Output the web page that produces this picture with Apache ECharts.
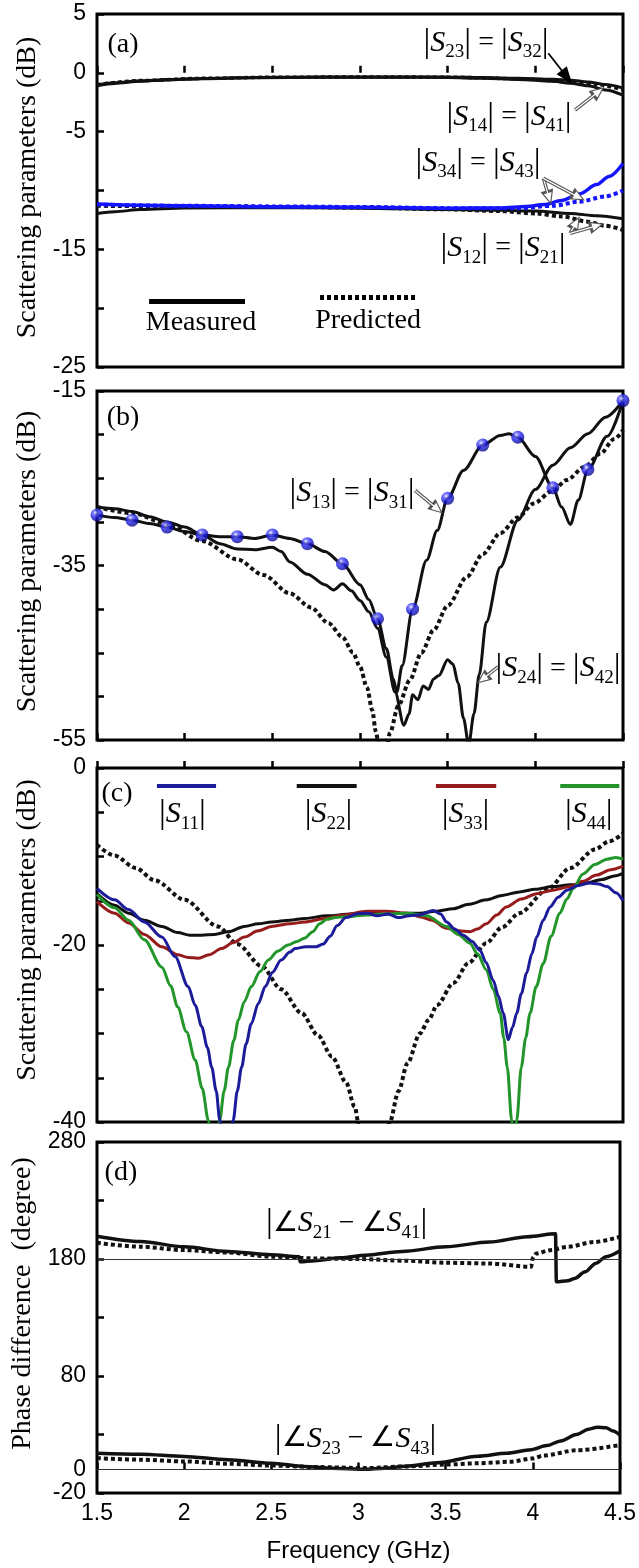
<!DOCTYPE html>
<html><head><meta charset="utf-8">
<script src="https://cdn.jsdelivr.net/npm/echarts@6/dist/echarts.min.js"></script>
<style>html,body{margin:0;padding:0;background:#fff}#c{width:639px;height:1568px}</style>
</head><body><div id="c"></div>
<script>
// ---------------- DATA ----------------
const freqTicks = [1.5, 2, 2.5, 3, 3.5, 4, 4.5];
const yLabelsA = [5, 0, -5, -15, -25];
const yLabelsB = [-15, -35, -55];
const yLabelsC = [0, -20, -40];
const yLabelsD = [280, 180, 80, 0, -20];
const yTicksD = [-20, 30, 80, 130, 180, 230, 280];

// (a) transmission
const aS23 = [[1.5,-1.05],[1.6,-0.85],[1.75,-0.68],[1.9,-0.57],[2.1,-0.48],[2.4,-0.4],[2.8,-0.36],[3.2,-0.35],[3.5,-0.36],[3.7,-0.4],[3.9,-0.46],[4.1,-0.55],[4.2,-0.62],[4.3,-0.78],[4.4,-1.0],[4.5,-1.3]];
const aS14 = [[1.5,-1.1],[1.6,-0.9],[1.75,-0.72],[1.9,-0.6],[2.1,-0.5],[2.4,-0.42],[2.8,-0.38],[3.2,-0.37],[3.5,-0.4],[3.7,-0.46],[3.9,-0.56],[4.1,-0.72],[4.2,-0.88],[4.3,-1.1],[4.4,-1.45],[4.5,-1.9]];
const aP23 = [[1.5,-1.0],[1.75,-0.66],[2.1,-0.47],[2.5,-0.38],[3.0,-0.35],[3.5,-0.37],[3.9,-0.5],[4.2,-0.75],[4.35,-1.0],[4.5,-1.45]];
const aS34 = [[1.5,-11.15],[1.75,-11.25],[2.0,-11.3],[2.5,-11.38],[3.0,-11.43],[3.5,-11.5],[3.8,-11.48],[3.95,-11.35],[4.05,-11.2],[4.15,-10.85],[4.25,-10.3],[4.35,-9.5],[4.42,-8.8],[4.5,-7.7]];
const aP34 = [[1.5,-11.2],[2.0,-11.3],[2.5,-11.35],[3.0,-11.4],[3.5,-11.5],[3.9,-11.5],[4.1,-11.3],[4.25,-10.95],[4.4,-10.5],[4.5,-10.0]];
const aS12 = [[1.5,-11.95],[1.6,-11.8],[1.75,-11.62],[2.0,-11.48],[2.5,-11.45],[3.0,-11.5],[3.5,-11.62],[3.8,-11.68],[4.0,-11.75],[4.2,-11.95],[4.35,-12.15],[4.5,-12.4]];
const aP12 = [[1.5,-11.3],[2.0,-11.35],[2.5,-11.4],[3.0,-11.45],[3.5,-11.6],[3.8,-11.75],[4.0,-11.95],[4.15,-12.2],[4.3,-12.65],[4.4,-13.0],[4.5,-13.35]];

// (b) isolation
const bS13 = [[1.5,-29.2],[1.6,-29.5],[1.7,-29.8],[1.8,-30.2],[1.9,-30.6],[2.0,-31.1],[2.1,-31.5],[2.2,-31.7],[2.3,-31.7],[2.4,-31.9],[2.5,-31.5],[2.6,-31.9],[2.7,-32.5],[2.8,-33.4],[2.9,-34.8],[3.0,-37.2],[3.05,-38.9],[3.1,-41.1],[3.15,-44.5],[3.19,-48.0],[3.21,-49.5],[3.24,-46.5],[3.3,-40.0],[3.38,-34.4],[3.44,-31.0],[3.5,-27.3],[3.59,-24.1],[3.7,-21.2],[3.8,-20.1],[3.85,-19.9],[3.9,-20.3],[4.0,-22.5],[4.1,-26.1],[4.15,-28.3],[4.2,-30.3],[4.245,-27.5],[4.3,-24.0],[4.41,-20.2],[4.5,-16.1]];
const bS13Balls = [[1.5,-29.2],[1.7,-29.8],[1.9,-30.6],[2.1,-31.5],[2.3,-31.7],[2.5,-31.5],[2.7,-32.5],[2.9,-34.8],[3.1,-41.1],[3.3,-40.0],[3.5,-27.3],[3.7,-21.2],[3.9,-20.3],[4.1,-26.1],[4.3,-24.0],[4.5,-16.1]];
const bS24 = [[1.5,-28.3],[1.6,-28.5],[1.7,-28.8],[1.8,-29.4],[1.9,-30.0],[2.0,-30.6],[2.1,-31.5],[2.2,-32.5],[2.3,-33.1],[2.4,-33.2],[2.5,-32.9],[2.55,-33.4],[2.6,-34.6],[2.7,-36.0],[2.8,-37.2],[2.85,-37.8],[2.9,-37.1],[2.95,-37.9],[3.0,-39.0],[3.05,-40.3],[3.1,-42.2],[3.15,-45.5],[3.2,-49.5],[3.25,-53.3],[3.28,-52.0],[3.3,-49.8],[3.33,-50.4],[3.36,-48.8],[3.39,-49.2],[3.42,-48.0],[3.45,-47.6],[3.5,-45.8],[3.53,-46.3],[3.56,-48.5],[3.59,-52.5],[3.62,-55.5],[3.65,-52.0],[3.68,-47.5],[3.72,-41.5],[3.8,-35.2],[3.9,-29.8],[4.0,-26.3],[4.1,-23.5],[4.2,-21.5],[4.3,-19.9],[4.4,-18.0],[4.5,-16.1]];
const bPred = [[1.5,-28.3],[1.7,-29.0],[1.9,-30.2],[2.1,-32.2],[2.3,-34.3],[2.45,-36.1],[2.6,-38.2],[2.72,-39.8],[2.82,-41.6],[2.9,-43.2],[2.96,-45.0],[3.0,-46.6],[3.04,-49.0],[3.07,-51.6],[3.09,-54.0],[3.12,-58.0],[3.15,-56.5],[3.17,-54.2],[3.22,-51.0],[3.285,-48.1],[3.35,-45.0],[3.42,-42.4],[3.5,-39.6],[3.61,-36.3],[3.7,-33.7],[3.8,-31.3],[3.9,-29.5],[3.99,-27.9],[4.1,-26.4],[4.18,-25.2],[4.28,-23.7],[4.37,-22.2],[4.45,-20.5],[4.5,-19.5]];

// (c) reflection
const cS11 = [[1.5,-13.6],[1.6,-14.9],[1.68,-16.0],[1.77,-17.4],[1.87,-19.1],[1.945,-21.3],[2.02,-24.7],[2.06,-26.8],[2.097,-29.2],[2.13,-31.6],[2.154,-33.8],[2.18,-36.5],[2.2,-39.8],[2.24,-46],[2.277,-39.8],[2.3,-36.5],[2.325,-33.8],[2.35,-31.2],[2.38,-28.9],[2.42,-26.6],[2.46,-24.7],[2.5,-23.1],[2.55,-21.7],[2.6,-20.8],[2.63,-20.4],[2.69,-20.2],[2.75,-20.2],[2.79,-19.9],[2.83,-19.0],[2.87,-17.8],[2.92,-16.9],[2.98,-16.5],[3.04,-16.4],[3.1,-16.7],[3.16,-16.5],[3.22,-16.9],[3.28,-16.7],[3.342,-16.6],[3.418,-16.1],[3.46,-16.5],[3.494,-17.4],[3.54,-18.2],[3.589,-18.9],[3.64,-19.6],[3.684,-20.6],[3.72,-22.0],[3.76,-24.0],[3.79,-25.8],[3.817,-27.7],[3.846,-30.7],[3.87,-29.3],[3.894,-27.7],[3.92,-25.5],[3.95,-23.2],[3.98,-21.0],[4.008,-19.1],[4.045,-17.2],[4.084,-15.7],[4.13,-14.6],[4.18,-13.8],[4.24,-13.3],[4.31,-13.0],[4.36,-13.1],[4.41,-13.4],[4.46,-14.1],[4.5,-15.0]];
const cS22 = [[1.5,-14.2],[1.6,-15.5],[1.68,-16.4],[1.77,-17.2],[1.87,-17.9],[1.96,-18.6],[2.03,-18.9],[2.097,-18.9],[2.17,-18.8],[2.25,-18.5],[2.34,-17.9],[2.42,-17.6],[2.496,-17.4],[2.6,-17.2],[2.686,-17.0],[2.81,-16.7],[2.95,-16.5],[3.04,-16.4],[3.15,-16.5],[3.27,-16.4],[3.342,-16.4],[3.43,-16.2],[3.532,-15.9],[3.62,-15.4],[3.72,-14.9],[3.81,-14.4],[3.91,-14.0],[4.0,-13.7],[4.1,-13.4],[4.2,-13.2],[4.29,-13.0],[4.38,-12.6],[4.45,-12.2],[4.5,-11.9]];
const cS33 = [[1.5,-15.1],[1.6,-16.4],[1.68,-17.5],[1.77,-18.8],[1.87,-20.2],[1.96,-21.1],[2.02,-21.4],[2.075,-21.5],[2.14,-21.1],[2.21,-20.4],[2.28,-19.7],[2.34,-19.1],[2.42,-18.4],[2.496,-17.9],[2.6,-17.6],[2.686,-17.4],[2.8,-17.0],[2.9,-16.6],[3.04,-16.2],[3.15,-16.2],[3.27,-16.4],[3.342,-16.8],[3.41,-17.2],[3.494,-18.1],[3.56,-18.4],[3.627,-18.5],[3.67,-18.2],[3.72,-17.6],[3.78,-16.6],[3.834,-15.7],[3.92,-14.8],[4.008,-14.2],[4.1,-13.8],[4.198,-13.4],[4.27,-12.8],[4.35,-12.1],[4.43,-11.5],[4.5,-11.1]];
const cS44 = [[1.5,-14.3],[1.6,-15.8],[1.68,-17.2],[1.77,-19.4],[1.87,-22.5],[1.92,-24.6],[1.96,-27.0],[2.01,-29.8],[2.06,-33.0],[2.1,-36.2],[2.135,-39.8],[2.17,-46],[2.2,-39.8],[2.225,-36.5],[2.25,-33.8],[2.28,-30.8],[2.306,-28.5],[2.34,-26.4],[2.38,-24.7],[2.43,-23.0],[2.477,-21.7],[2.53,-20.7],[2.59,-20.0],[2.64,-19.6],[2.686,-19.2],[2.73,-18.5],[2.77,-17.6],[2.81,-17.1],[2.86,-16.9],[2.92,-16.8],[3.04,-16.6],[3.15,-16.5],[3.27,-16.4],[3.38,-16.7],[3.494,-17.9],[3.56,-18.8],[3.627,-19.8],[3.67,-21.0],[3.72,-22.8],[3.76,-25.0],[3.8,-27.7],[3.82,-30.5],[3.84,-33.8],[3.865,-39.8],[3.88,-46],[3.894,-39.8],[3.92,-33.8],[3.945,-30.5],[3.97,-27.7],[4.005,-24.7],[4.045,-22.1],[4.09,-19.0],[4.14,-16.4],[4.18,-14.8],[4.217,-13.6],[4.27,-12.0],[4.34,-10.9],[4.41,-10.3],[4.46,-10.1],[4.5,-10.3]];
const cPred = [[1.5,-8.7],[1.6,-9.9],[1.72,-11.3],[1.83,-12.7],[2.0,-14.9],[2.19,-17.9],[2.3,-19.9],[2.44,-22.4],[2.55,-25.0],[2.667,-27.7],[2.76,-30.2],[2.84,-32.6],[2.92,-35.5],[2.97,-38.3],[3.0,-41.2],[3.04,-46],[3.08,-52],[3.12,-47],[3.17,-40.0],[3.22,-36.5],[3.27,-33.4],[3.342,-30.0],[3.39,-28.5],[3.44,-26.8],[3.532,-24.3],[3.62,-22.0],[3.72,-19.8],[3.81,-18.0],[3.91,-16.4],[4.065,-13.8],[4.2,-11.3],[4.34,-9.2],[4.42,-8.3],[4.5,-7.4]];

// (d) phase difference
const dS21m = [[1.5,199.5],[1.75,195],[2.0,190.4],[2.25,186.5],[2.5,183.6],[2.66,182.0],[2.665,177.6],[2.75,178.6],[2.9,181.0],[3.04,183.3],[3.25,186.5],[3.5,190.4],[3.75,194.6],[3.97,199],[4.13,201.5],[4.135,160.6],[4.2,161.5],[4.24,163.4],[4.3,169],[4.36,176.2],[4.42,182],[4.5,187]];
const dS21p = [[1.5,193.8],[1.75,190.5],[2.0,187.6],[2.25,185.5],[2.5,182.0],[2.75,180.5],[3.0,180.0],[3.27,178.5],[3.5,176.8],[3.74,176.2],[3.99,173.4],[4.0,181],[4.02,184.7],[4.1,187.5],[4.2,190.4],[4.35,194.5],[4.5,199]];
const dS23m = [[1.5,14],[1.75,13.2],[2.0,11.3],[2.25,8.5],[2.5,5.5],[2.69,2.7],[2.85,1.2],[3.04,0.3],[3.15,1.2],[3.27,2.9],[3.45,5.8],[3.685,11.5],[3.85,14.0],[3.99,17.0],[4.08,20.5],[4.16,24.5],[4.25,30],[4.32,34.5],[4.37,36.3],[4.42,35.8],[4.46,33],[4.5,29.5]];
const dS23p = [[1.5,9.8],[1.75,8.5],[2.0,7.0],[2.25,5.0],[2.5,3.5],[2.75,2.2],[3.04,1.3],[3.27,2.7],[3.5,4.3],[3.685,5.4],[3.87,6.7],[4.0,9.5],[4.06,12.0],[4.25,16.5],[4.5,21.0]];
const dRefLines = [180, 0];

// ---------------- STYLE / LAYOUT ----------------
const SANS = "'Liberation Sans', Arial, sans-serif";
const SERIF = "'Liberation Serif', 'Times New Roman', serif";
const BLUE_A = '#1414ff', NAVY = '#1c1c9a', GREEN = '#22962a', RED = '#961c1c', BLK = '#111';
const grids = [
  {left: 97, right: 16, top: 14, height: 353},
  {left: 97, right: 16, top: 391, height: 349},
  {left: 97, right: 16, top: 768, height: 354},
  {left: 97, right: 16, top: 1142, height: 351}
].map(g => Object.assign(g, {show: true, borderColor: '#000', borderWidth: 3, backgroundColor: 'transparent'}));

function xAxis(i) {
  const last = i === 3;
  return {
    gridIndex: i, type: 'value', min: 1.5, max: 4.5, interval: 0.5,
    axisLine: {show: false}, splitLine: {show: false},
    axisTick: {show: true, inside: true, length: 7, lineStyle: {color: '#000', width: 2.5}},
    axisLabel: {show: last, margin: 9, fontFamily: SANS, fontSize: 23, color: '#000',
      formatter: v => freqTicks.includes(v) ? String(v) : ''},
    name: last ? 'Frequency (GHz)' : '', nameLocation: 'middle', nameGap: 46,
    nameTextStyle: {fontFamily: SANS, fontSize: 24, color: '#000'}
  };
}
function yAxis(i, min, max, interval, labels, name, shift, extra) {
  return Object.assign({
    gridIndex: i, type: 'value', min, max, interval,
    axisLine: {show: false}, splitLine: {show: false},
    axisTick: {show: true, inside: true, length: 7, lineStyle: {color: '#000', width: 2.5}},
    axisLabel: {margin: 11, fontFamily: SANS, fontSize: 23, color: '#000',
      formatter: v => labels.includes(v) ? String(v) : ''},
    name, nameLocation: 'middle', nameGap: 42,
    nameTextStyle: {fontFamily: SERIF, fontSize: 28, color: '#000', padding: [0, 0, 0, shift]}
  }, extra || {});
}

function line(i, data, color, width, dotted, z) {
  return {
    type: 'line', xAxisIndex: i, yAxisIndex: i, data, showSymbol: false, symbol: 'none',
    smooth: 0.3, smoothMonotone: 'x', clip: true, z: z || 2,
    lineStyle: {color, width, type: dotted ? [4, 3] : 'solid', cap: 'butt'}
  };
}

const rich = {
  bar: {fontFamily: SERIF, fontSize: 34, lineHeight: 38, color: '#000'},
  s: {fontFamily: SERIF, fontStyle: 'italic', fontSize: 30, lineHeight: 38, color: '#000'},
  sub: {fontFamily: SERIF, fontSize: 19, lineHeight: 19, verticalAlign: 'bottom', color: '#000'},
  eq: {fontFamily: SERIF, fontSize: 28, lineHeight: 38, color: '#000'},
  ang: {fontFamily: SERIF, fontSize: 28, lineHeight: 38, color: '#000'},
  t: {fontFamily: SERIF, fontSize: 28, lineHeight: 32, color: '#000'}
};
const absS = (sub) => `{bar||}{s|S}{sub|${sub}}{bar||}`;
const eqLabel = (a, b) => `{bar||}{s|S}{sub|${a}}{bar||}{eq| = }{bar||}{s|S}{sub|${b}}{bar||}`;
const angLabel = (a, b) => `{bar||}{ang|∠}{s|S}{sub|${a}}{eq| − }{ang|∠}{s|S}{sub|${b}}{bar||}`;
const txt = (t) => `{t|${t}}`;

function hollowArrow(from, to) {
  return [
    [{coord: from, symbol: 'none', lineStyle: {color: '#555', width: 3.5, type: 'solid'}}, {coord: to, symbol: 'triangle', symbolSize: [13, 15]}],
    [{coord: from, symbol: 'none', lineStyle: {color: '#fff', width: 1.2, type: 'solid'}}, {coord: to, symbol: 'triangle', symbolSize: [8, 9]}]
  ];
}
function solidArrow(from, to) {
  return [[{coord: from, symbol: 'none', lineStyle: {color: '#000', width: 1.8, type: 'solid'}}, {coord: to, symbol: 'triangle', symbolSize: [13, 17]}]];
}
function segment(from, to, color, width, dotted) {
  return [[{coord: from, symbol: 'none', lineStyle: {color, width, type: dotted ? [4, 3] : 'solid', cap: 'butt'}}, {coord: to, symbol: 'none'}]];
}
function annot(i, points, lines) {
  return {
    type: 'line', xAxisIndex: i, yAxisIndex: i, data: [], z: 10,
    markPoint: {
      symbol: 'circle', symbolSize: 0.01, silent: true,
      label: {show: true, position: 'inside', formatter: p => p.name, rich},
      data: points.map(p => ({name: p[2], coord: [p[0], p[1]]}))
    },
    markLine: {silent: true, symbol: ['none', 'none'], label: {show: false}, animation: false,
      data: lines}
  };
}

const ballColor = {type: 'radial', x: 0.38, y: 0.33, r: 0.7, colorStops: [
  {offset: 0, color: '#f4f4ff'}, {offset: 0.22, color: '#6a6aff'}, {offset: 0.55, color: '#1c1ce8'}, {offset: 1, color: '#0a0a78'}]};

const series = [
  // (a)
  line(0, aS23, BLK, 3), line(0, aS14, BLK, 3), line(0, aP23, BLK, 3.5, true),
  line(0, aS12, BLK, 3), line(0, aP12, BLK, 4, true),
  line(0, aS34, BLUE_A, 3.5, false, 3), line(0, aP34, BLUE_A, 4, true, 3),
  annot(0, [
    [1.648, 2.37, txt('(a)')],
    [3.719, 2.54, eqLabel('23', '32')],
    [3.85, -3.75, eqLabel('14', '41')],
    [3.673, -7.66, eqLabel('34', '43')],
    [3.816, -14.89, eqLabel('12', '21')],
    [2.093, -21.26, txt('Measured')],
    [3.046, -21.09, txt('Predicted')]
  ], [].concat(
    solidArrow([4.074, 1.66], [4.18, -0.35]),
    hollowArrow([4.226, -3.16], [4.36, -1.6]),
    hollowArrow([4.046, -8.97], [4.078, -10.6]),
    hollowArrow([4.046, -8.97], [4.245, -10.55]),
    hollowArrow([4.198, -13.64], [4.232, -12.75]),
    hollowArrow([4.198, -13.64], [4.35, -13.0]),
    segment([1.797, -19.39], [2.344, -19.39], '#000', 5),
    segment([2.772, -19.05], [3.325, -19.05], '#000', 5, true)
  )),
  // (b)
  line(1, bPred, BLK, 4, true), line(1, bS24, BLK, 3), line(1, bS13, BLK, 3),
  {type: 'scatter', xAxisIndex: 1, yAxisIndex: 1, data: bS13Balls, symbol: 'circle', symbolSize: 13,
    itemStyle: {color: ballColor}, z: 5},
  annot(1, [
    [1.648, -18.0, txt('(b)')],
    [2.954, -26.7, eqLabel('13', '31')],
    [4.129, -46.8, eqLabel('24', '42')]
  ], [].concat(
    hollowArrow([3.314, -26.4], [3.44, -28.5]),
    hollowArrow([3.789, -46.6], [3.70, -48.0])
  )),
  // (c)
  line(2, cPred, BLK, 4, true), line(2, cS22, BLK, 3), line(2, cS33, RED, 3),
  line(2, cS44, GREEN, 3), line(2, cS11, NAVY, 3),
  annot(2, [
    [1.614, -2.94, txt('(c)')],
    [1.987, -5.2, absS('11')],
    [2.821, -5.2, absS('22')],
    [3.602, -5.2, absS('33')],
    [4.305, -5.2, absS('44')]
  ], [].concat(
    segment([1.842, -2.03], [2.179, -2.03], NAVY, 4),
    segment([2.639, -2.03], [2.981, -2.03], BLK, 4),
    segment([3.433, -2.03], [3.777, -2.03], RED, 4),
    segment([4.142, -2.03], [4.479, -2.03], GREEN, 4)
  )),
  // (d)
  {type: 'line', xAxisIndex: 3, yAxisIndex: 3, data: [], z: 1,
    markLine: {silent: true, symbol: ['none', 'none'], label: {show: false},
      lineStyle: {color: '#333', width: 1, type: 'solid'},
      data: dRefLines.map(v => ({yAxis: v}))}},
  line(3, dS21p, BLK, 4, true), line(3, dS21m, BLK, 3.5),
  line(3, dS23p, BLK, 4, true), line(3, dS23m, BLK, 3.5),
  annot(3, [
    [1.637, 254.1, txt('(d)')],
    [2.932, 210.6, angLabel('21', '41')],
    [2.983, 26.1, angLabel('23', '43')]
  ], [])
];

const option = {
  animation: false,
  backgroundColor: '#fff',
  grid: grids,
  xAxis: [0, 1, 2, 3].map(xAxis),
  yAxis: [
    yAxis(0, -25, 5, 5, yLabelsA, 'Scattering parameters (dB)', 6),
    yAxis(1, -55, -15, 5, yLabelsB, 'Scattering parameters (dB)', 8),
    yAxis(2, -40, 0, 5, yLabelsC, 'Scattering parameters (dB)', 30),
    yAxis(3, -20, 280, 50, yLabelsD, 'Phase difference  (degree)', 28, {
      axisTick: {show: true, inside: true, length: 7, lineStyle: {color: '#000', width: 2.5}, customValues: yTicksD},
      axisLabel: {margin: 11, fontFamily: SANS, fontSize: 23, color: '#000', customValues: yLabelsD}
    })
  ],
  series
};
const chart = echarts.init(document.getElementById('c'), null, {renderer: 'canvas'});
chart.setOption(option);
</script>
</body></html>
